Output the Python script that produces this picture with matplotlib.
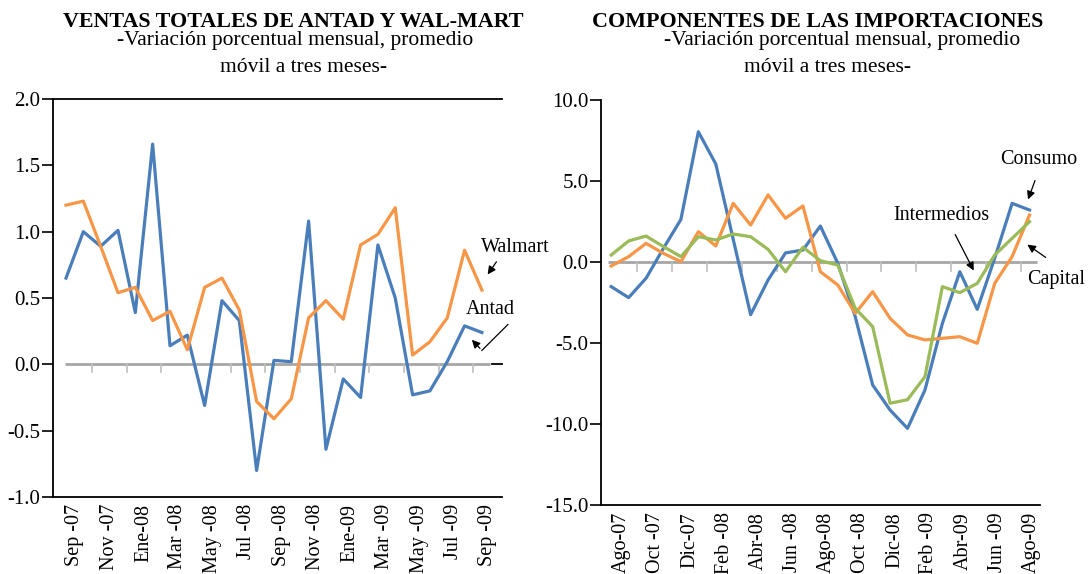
import numpy as np
import matplotlib
matplotlib.use("Agg")
import matplotlib.pyplot as plt

plt.rcParams['font.family'] = ['Liberation Serif', 'DejaVu Serif']
plt.rcParams['axes.unicode_minus'] = False

BLUE = '#4a7ebb'
ORANGE = '#f79646'
GREEN = '#9bbb59'

# Ventas ANTAD / Wal-Mart, Sep-07 .. Sep-09
antad = [0.65, 1.00, 0.89, 1.01, 0.39, 1.66, 0.14, 0.22, -0.31, 0.48, 0.33,
         -0.80, 0.03, 0.02, 1.08, -0.64, -0.11, -0.25, 0.90, 0.50, -0.23,
         -0.20, 0.02, 0.29, 0.24]
walmart = [1.20, 1.23, 0.89, 0.54, 0.58, 0.33, 0.40, 0.11, 0.58, 0.65, 0.41,
           -0.28, -0.41, -0.26, 0.35, 0.48, 0.34, 0.90, 0.98, 1.18, 0.07,
           0.17, 0.35, 0.86, 0.56]
left_labels = ['Sep -07', 'Nov -07', 'Ene-08', 'Mar -08', 'May -08', 'Jul -08',
               'Sep -08', 'Nov -08', 'Ene-09', 'Mar -09', 'May -09', 'Jul -09',
               'Sep -09']

# Importaciones, Ago-07 .. Ago-09
consumo = [-1.52, -2.20, -1.00, 0.85, 2.63, 8.04, 6.05, 1.40, -3.25, -1.11,
           0.56, 0.74, 2.22, -0.08, -3.37, -7.59, -9.14, -10.27, -7.90, -3.79,
           -0.60, -2.92, 0.23, 3.62, 3.21]
capital = [-0.25, 0.33, 1.15, 0.53, 0.02, 1.87, 0.99, 3.62, 2.28, 4.14, 2.70,
           3.46, -0.60, -1.42, -3.17, -1.83, -3.48, -4.50, -4.81, -4.71,
           -4.61, -5.02, -1.32, 0.33, 2.90]
intermedios = [0.43, 1.30, 1.60, 0.95, 0.33, 1.56, 1.36, 1.73, 1.56, 0.78,
               -0.60, 0.91, 0.08, -0.19, -2.86, -3.99, -8.72, -8.50, -7.08,
               -1.52, -1.89, -1.32, 0.43, 1.46, 2.49]
right_labels = ['Ago-07', 'Oct -07', 'Dic-07', 'Feb -08', 'Abr-08', 'Jun -08',
                'Ago-08', 'Oct -08', 'Dic-08', 'Feb -09', 'Abr-09', 'Jun -09',
                'Ago-09']

W, H = 1092, 574
fig = plt.figure(figsize=(W / 100, H / 100), dpi=100)


def px_axes(x0, y0, x1, y1):
    return fig.add_axes([x0 / W, 1 - y1 / H, (x1 - x0) / W, (y1 - y0) / H])


def style(ax, zero_span, tick_pos, tick_depth, labels, label_pos):
    # gray zero line with small downward ticks every two months
    ax.plot(zero_span, [0, 0], color='#a6a6a6', lw=2, zorder=1,
            solid_capstyle='butt')
    for t in tick_pos:
        ax.plot([t, t], [0, -tick_depth], color='#bfbfbf', lw=1.2, zorder=1)
    ax.set_xticks(label_pos)
    ax.set_xticklabels(labels, rotation=90, fontsize=14.5)
    ax.tick_params(axis='x', length=0, pad=5)
    ax.tick_params(axis='y', direction='out', length=8, width=1.2,
                   labelsize=15, pad=1)
    for s in ax.spines.values():
        s.set_linewidth(1.3)
    ax.spines['right'].set_visible(False)


# ---------- left chart
ax1 = px_axes(53, 99, 502, 497)
x1 = np.arange(len(antad))
ax1.set_xlim(-0.75, 25.16)
ax1.set_ylim(-1.0, 2.0)
ax1.set_yticks(np.arange(-1.0, 2.01, 0.5))
ax1.set_yticklabels([f'{v:.1f}' for v in np.arange(-1.0, 2.01, 0.5)])
style(ax1, [-0.05, 24.45], np.arange(1.5, 24, 2), 0.06,
      left_labels, np.linspace(0.5, 24.35, 13))
ax1.plot([24.6, 25.16], [0, 0], color='black', lw=1.3, clip_on=False)
ax1.plot(x1, antad, color=BLUE, lw=2.3, zorder=3)
ax1.plot(x1, walmart, color=ORANGE, lw=2.3, zorder=4)

arr = dict(arrowstyle='-|>', color='black', lw=0.9, mutation_scale=12)
ax1.annotate('', xy=(24.24, 0.66), xytext=(24.93, 0.79), arrowprops=arr)
ax1.text(25.9, 0.88, 'Walmart', fontsize=14.5, ha='center', va='center')
ax1.text(24.47, 0.41, 'Antad', fontsize=14.5, ha='center', va='center')
ax1.plot([25.5, 24.0], [0.30, 0.105], color='black', lw=0.9, clip_on=False)
ax1.annotate('', xy=(23.31, 0.20), xytext=(24.0, 0.105), arrowprops=arr)

# ---------- right chart
ax2 = px_axes(601, 100, 1040, 505)
x2 = np.arange(len(consumo))
ax2.set_xlim(-0.585, 24.6)
ax2.set_ylim(-15, 10)
ax2.set_yticks(np.arange(-15, 10.1, 5))
ax2.set_yticklabels([f'{v:.1f}' for v in np.arange(-15, 10.1, 5)])
style(ax2, [-0.2, 24.4], np.arange(1.5, 24, 2), 0.55,
      right_labels, np.linspace(0.6, 24.1, 13))
ax2.spines['top'].set_visible(False)
ax2.plot(x2, consumo, color=BLUE, lw=2.3, zorder=3)
ax2.plot(x2, capital, color=ORANGE, lw=2.3, zorder=4)
ax2.plot(x2, intermedios, color=GREEN, lw=2.3, zorder=5)

ax2.text(24.55, 6.3, 'Consumo', fontsize=14.5, ha='center', va='center')
ax2.annotate('', xy=(23.86, 3.70), xytext=(24.37, 5.19), arrowprops=arr)
ax2.text(18.97, 2.9, 'Intermedios', fontsize=14.5, ha='center', va='center')
ax2.annotate('', xy=(20.87, -0.68), xytext=(19.66, 1.85), arrowprops=arr)
ax2.text(25.5, -1.11, 'Capital', fontsize=14.5, ha='center', va='center')
ax2.annotate('', xy=(23.74, 1.17), xytext=(25.06, 0.185), arrowprops=arr)


# ---------- titles
def ftext(x, y, s, **kw):
    fig.text(x / W, 1 - y / H, s, ha='center', va='baseline', **kw)


ftext(293, 27, 'VENTAS TOTALES DE ANTAD Y WAL-MART', fontsize=15.8,
      fontweight='bold')
ftext(295, 45, '-Variación porcentual mensual, promedio', fontsize=15.5)
ftext(304, 72, 'móvil a tres meses-', fontsize=15.5)
ftext(818, 27, 'COMPONENTES DE LAS IMPORTACIONES', fontsize=15.8,
      fontweight='bold')
ftext(842, 45, '-Variación porcentual mensual, promedio', fontsize=15.5)
ftext(828, 72, 'móvil a tres meses-', fontsize=15.5)

fig.savefig('out.png', dpi=100)
